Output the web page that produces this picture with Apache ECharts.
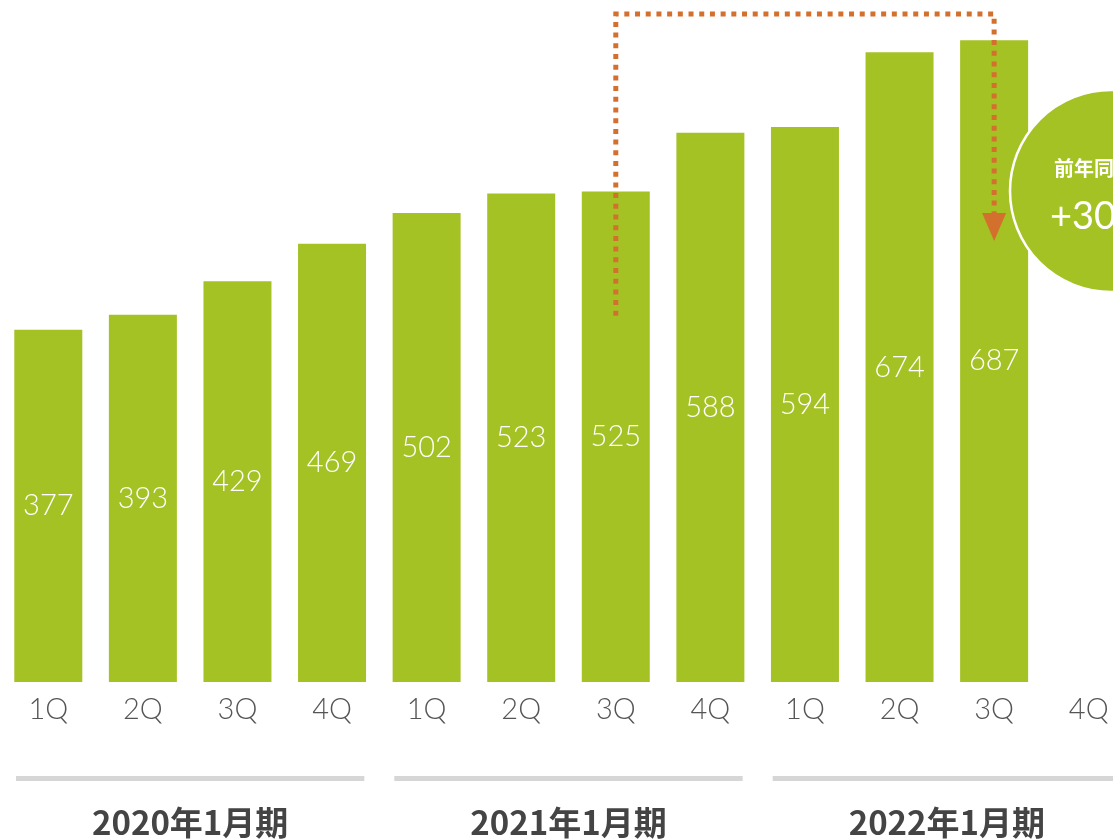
<!DOCTYPE html>
<html><head><meta charset="utf-8">
<script src="https://cdn.jsdelivr.net/npm/echarts@6/dist/echarts.min.js"></script>
<style>html,body{margin:0;padding:0;background:#fff}#c{width:1113px;height:839px}</style>
</head><body><div id="c"></div>
<script>
const categories = ['1Q','2Q','3Q','4Q','1Q','2Q','3Q','4Q','1Q','2Q','3Q','4Q'];
const sales = [377,393,429,469,502,523,525,588,594,674,687,null];
const groups = ['2020年1月期','2021年1月期','2022年1月期'];
const groupSize = 4;
const badgeTitle = '前年同期比';
const badgeValue = '+30.9%';

const GREEN = '#a4c224', ORANGE = '#d4702e';
const chart = echarts.init(document.getElementById('c'));
chart.setOption({
  animation:false,
  grid:{left:1, top:0, width:1135, bottom:157, outerBoundsMode:'none', containLabel:false},
  xAxis:{type:'category', data:categories, axisLine:{show:false}, axisTick:{show:false},
    axisLabel:{fontSize:29, color:'#555', margin:13, fontFamily:'Lato', fontWeight:300, interval:0}},
  yAxis:{type:'value', min:0, max:730, show:false, splitLine:{show:false}},
  series:[{type:'bar', data:sales, barWidth:68, itemStyle:{color:GREEN},
    label:{show:true, position:'inside', color:'#fff', fontSize:29, fontFamily:'Lato', fontWeight:300}}]
});

function px(i, v){ return chart.convertToPixel({xAxisIndex:0,yAxisIndex:0},[i,v]); }
const band = px(1,0)[0]-px(0,0)[0];
const g = [];
groups.forEach((name,k)=>{
  const a = px(k*groupSize,0)[0]-band/2+15;
  const b = px(k*groupSize+groupSize-1,0)[0]+band/2-15;
  g.push({type:'rect', shape:{x:a, y:776, width:b-a, height:5}, style:{fill:'#d6d6d6'}});
  g.push({type:'text', x:(a+b)/2, y:822, style:{text:name, fill:'#444', font:'bold 33px "Noto Sans CJK JP"', align:'center', verticalAlign:'middle'}});
});
// comparison arrow from 2021 3Q to 2022 3Q
const fromIdx = 6, toIdx = 10;
const x1 = px(fromIdx,0)[0], x2 = px(toIdx,0)[0];
const yStart = px(0,392)[1], yTop = px(0,715)[1], yEnd = px(0,500)[1], yTip = px(0,472)[1];
g.push({type:'polyline', shape:{points:[[x1,yStart],[x1,yTop],[x2,yTop],[x2,yEnd]]},
  style:{stroke:ORANGE, lineWidth:5, lineDash:[5,5.7], fill:null}, z:10});
g.push({type:'polygon', shape:{points:[[x2-12,yEnd-2],[x2+12,yEnd-2],[x2,yTip]]}, style:{fill:ORANGE}, z:10});
// badge circle
g.push({type:'circle', shape:{cx:1111, cy:191, r:101}, style:{fill:GREEN, stroke:'#fff', lineWidth:2.5}, z:11});
g.push({type:'text', x:1054, y:168, style:{text:badgeTitle, fill:'#fff', font:'bold 20px "Noto Sans CJK JP"', verticalAlign:'middle'}, z:12});
g.push({type:'text', x:1050, y:217, style:{text:badgeValue, fill:'#fff', font:'38px Lato', verticalAlign:'middle'}, z:12});
chart.setOption({graphic:g});
</script></body></html>
